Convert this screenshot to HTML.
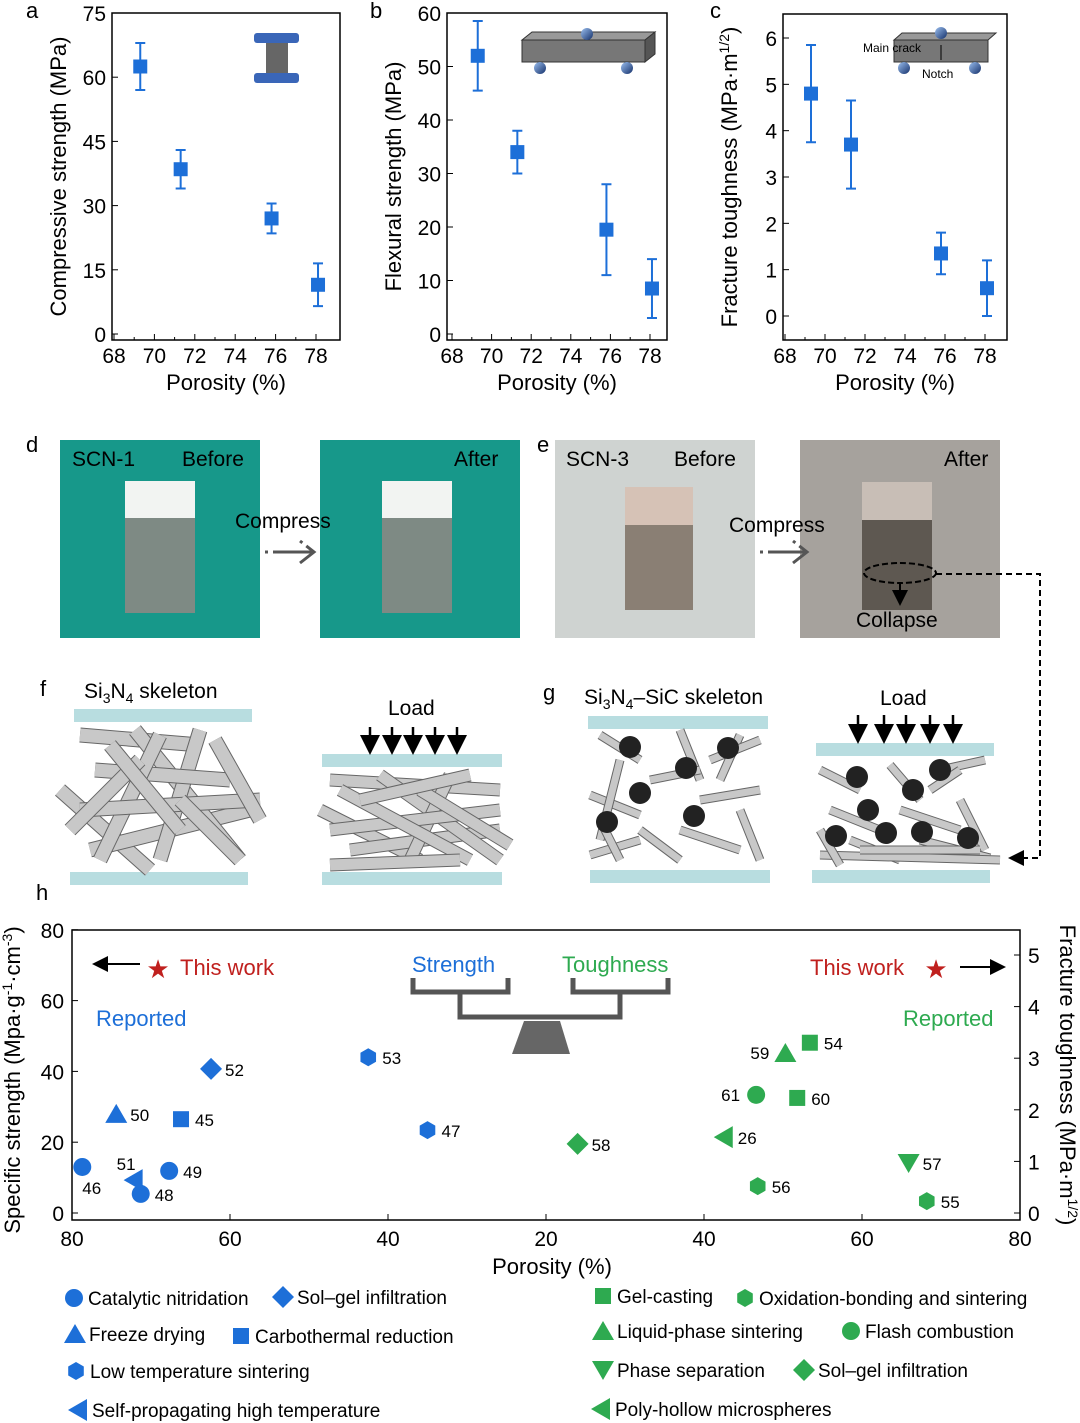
<!DOCTYPE html>
<html><head><meta charset="utf-8"><style>
body{margin:0;background:#fff}
svg{display:block;font-family:"Liberation Sans",sans-serif}
</style></head><body>
<svg id="fig" width="1080" height="1423" viewBox="0 0 1080 1423" xmlns="http://www.w3.org/2000/svg">
<defs>
<linearGradient id="roll" x1="0" y1="0" x2="1" y2="1"><stop offset="0" stop-color="#9cc0f0"/><stop offset="1" stop-color="#14306a"/></linearGradient>
<marker id="ah" markerWidth="8" markerHeight="8" refX="6" refY="4" orient="auto"><path d="M0,0 L8,4 L0,8 z" fill="#000"/></marker>
</defs>
<g id="charts"></g>
<g font-size="22">
<text x="26" y="18">a</text><text x="370" y="18">b</text><text x="710" y="18">c</text>
<text x="26" y="452">d</text><text x="537" y="452">e</text>
<text x="40" y="696">f</text><text x="543" y="700">g</text><text x="36" y="900">h</text>
</g>
<g>
<rect x="254" y="33" width="45" height="10" rx="3" fill="#3a66b8"/>
<rect x="266" y="43" width="22" height="30" fill="#666"/>
<rect x="254" y="73" width="45" height="10" rx="3" fill="#3a66b8"/>
</g>
<g>
<polygon points="522,40 645,40 655,32 532,32" fill="#999" stroke="#333"/>
<rect x="522" y="40" width="123" height="22" fill="#777" stroke="#333"/>
<polygon points="645,40 655,32 655,54 645,62" fill="#555" stroke="#333"/>
<circle cx="587" cy="34" r="6" fill="url(#roll)"/><circle cx="540" cy="68" r="6" fill="url(#roll)"/><circle cx="627" cy="68" r="6" fill="url(#roll)"/>
</g>
<g>
<polygon points="894,40 988,40 996,33 902,33" fill="#999" stroke="#333"/>
<rect x="894" y="40" width="94" height="22" fill="#777" stroke="#333"/>
<circle cx="941" cy="33" r="6" fill="url(#roll)"/><circle cx="904" cy="68" r="6" fill="url(#roll)"/><circle cx="975" cy="68" r="6" fill="url(#roll)"/>
<line x1="941" y1="45" x2="941" y2="60" stroke="#000"/>
<text x="863" y="52" font-size="12">Main crack</text><text x="922" y="78" font-size="12">Notch</text>
</g>
<g>
<rect x="60" y="440" width="200" height="198" fill="#17988a"/>
<rect x="125" y="518" width="70" height="95" fill="#7e8a84"/><rect x="125" y="481" width="70" height="37" fill="#f2f4f2"/>
<text x="72" y="466" font-size="21">SCN-1</text><text x="182" y="466" font-size="21">Before</text></g>
<g>
<rect x="320" y="440" width="200" height="198" fill="#17988a"/>
<rect x="382" y="518" width="70" height="95" fill="#7e8a84"/><rect x="382" y="481" width="70" height="37" fill="#f2f4f2"/>
<text x="454" y="466" font-size="21">After</text></g>
<text x="235" y="528" font-size="21">Compress</text>
<path d="M265,552 H312 M300,541 L314,552 L300,563" stroke="#555" stroke-width="3" fill="none" stroke-dasharray="3 5 40"/>
<g>
<rect x="555" y="440" width="200" height="198" fill="#cfd3d1"/>
<rect x="625" y="525" width="68" height="85" fill="#8a7f74"/><rect x="625" y="487" width="68" height="38" fill="#d6c2b6"/>
<text x="566" y="466" font-size="21">SCN-3</text><text x="674" y="466" font-size="21">Before</text></g>
<g>
<rect x="800" y="440" width="200" height="198" fill="#a6a29d"/>
<rect x="862" y="520" width="70" height="90" fill="#5e5851"/><rect x="862" y="482" width="70" height="38" fill="#c8beb6"/>
<ellipse cx="900" cy="573" rx="36" ry="10" fill="none" stroke="#000" stroke-width="2" stroke-dasharray="6 3"/>
<line x1="900" y1="583" x2="900" y2="602" stroke="#000" stroke-width="2" marker-end="url(#ah)"/>
<text x="944" y="466" font-size="21">After</text><text x="856" y="627" font-size="21">Collapse</text></g>
<text x="729" y="532" font-size="21">Compress</text>
<path d="M760,552 H805 M793,541 L807,552 L793,563" stroke="#555" stroke-width="3" fill="none" stroke-dasharray="3 5 40"/>
<path d="M936,574 H1040 V858 H1012" stroke="#000" stroke-width="2" fill="none" stroke-dasharray="6 4" marker-end="url(#ah)"/>
<text x="84" y="698" font-size="21">Si<tspan font-size="14" dy="5">3</tspan><tspan dy="-5">N</tspan><tspan font-size="14" dy="5">4</tspan><tspan dy="-5"> skeleton</tspan></text>
<text x="584" y="704" font-size="21">Si<tspan font-size="14" dy="5">3</tspan><tspan dy="-5">N</tspan><tspan font-size="14" dy="5">4</tspan><tspan dy="-5">–SiC skeleton</tspan></text>
<text x="388" y="715" font-size="21">Load</text><text x="880" y="705" font-size="21">Load</text>
<g id="skel"></g>
<g font-size="19" id="legend"></g>
</svg>
<script>
const NS="http://www.w3.org/2000/svg";
function mk(p,tag,at,txt){const e=document.createElementNS(NS,tag);for(const k in at)e.setAttribute(k,at[k]);if(txt!=null)e.textContent=txt;p.appendChild(e);return e;}
const charts=document.getElementById('charts');
const BLUE="#1d6fd8",GREEN="#2eaa50";

const porosityABC=[69.3,71.3,75.8,78.1];
const compStrength=[62.5,38.5,27,11.5];
const compErr=[5.5,4.5,3.5,5];
const flexStrength=[52,34,19.5,8.5];
const flexErr=[6.5,4,8.5,5.5];
const toughness=[4.8,3.7,1.35,0.6];
const toughErr=[1.05,0.95,0.45,0.6];
const xTicksABC=[68,70,72,74,76,78];
const yTicksA=[0,15,30,45,60,75];
const yTicksB=[0,10,20,30,40,50,60];
const yTicksC=[0,1,2,3,4,5,6];

function smallChart(o){
  const g=mk(charts,'g',{});
  
  
  const X=v=>o.x0+(v-68)*(o.x1-o.x0)/10;
  const Y=v=>o.y0+(v-o.ymin)*(o.y1-o.y0)/(o.ymax-o.ymin);
  mk(g,'rect',{x:o.L,y:o.T,width:o.R-o.L,height:o.B-o.T,fill:'none',stroke:'#000','stroke-width':1.5});
  xTicksABC.forEach(t=>{const x=X(t);mk(g,'line',{x1:x,x2:x,y1:o.B,y2:o.B-6,stroke:'#000'});
    const l=mk(g,'text',{x:x,y:o.B+23,'font-size':21,'text-anchor':'middle'},t);
    if(t<78){const xm=X(t+1);mk(g,'line',{x1:xm,x2:xm,y1:o.B,y2:o.B-3,stroke:'#000'});}});
  o.yt.forEach(t=>{const y=Y(t);mk(g,'line',{x1:o.L,x2:o.L+6,y1:y,y2:y,stroke:'#000'});
    const l=mk(g,'text',{x:o.L-6,y:y+8,'font-size':21,'text-anchor':'end'},t);});
  const xt=mk(g,'text',{x:(o.L+o.R)/2,y:o.B+50,'font-size':22,'text-anchor':'middle'},'Porosity (%)');
  
  const yt=mk(g,'text',{x:0,y:0,'font-size':22,'text-anchor':'middle',transform:`translate(${o.L-46},${(o.T+o.B)/2}) rotate(-90)`});
  yt.innerHTML=o.ytitle;
  porosityABC.forEach((p,i)=>{const x=X(p),y=Y(o.vals[i]),ya=Y(o.vals[i]+o.err[i]),yb=Y(o.vals[i]-o.err[i]);
    const eb=mk(g,'path',{d:`M${x},${ya}V${yb}M${x-5},${ya}H${x+5}M${x-5},${yb}H${x+5}`,stroke:BLUE,'stroke-width':2,fill:'none'});
    
    const m=mk(g,'rect',{x:x-7,y:y-7,width:14,height:14,fill:BLUE});
    });
}
smallChart({name:'chart-a-compressive',L:112,R:340,T:13,B:340,x0:114,x1:316,y0:334,y1:13,ymin:0,ymax:75,yt:yTicksA,vals:compStrength,err:compErr,ytitle:'Compressive strength (MPa)'});
smallChart({name:'chart-b-flexural',L:447,R:667,T:13,B:340,x0:452,x1:650,y0:334,y1:13,ymin:0,ymax:60,yt:yTicksB,vals:flexStrength,err:flexErr,ytitle:'Flexural strength (MPa)'});
smallChart({name:'chart-c-toughness',L:783,R:1007,T:14,B:340,x0:785,x1:985,y0:316,y1:38,ymin:0,ymax:6,yt:yTicksC,vals:toughness,err:toughErr,ytitle:'Fracture toughness (MPa·m<tspan font-size="14" dy="-8">1/2</tspan><tspan dy="8">)</tspan>'});

const leftLabels=['46','48','49','51','50','45','52','53','47'];
const leftPorosity=[78.7,71.3,67.7,72.2,74.4,66.2,62.4,42.5,35];
const leftStrength=[13,5.4,11.9,9.3,28,26.5,40.7,44,23.4];
const leftShapes=['circle','circle','circle','left','up','square','diamond','hex','hex'];
const rightLabels=['58','26','59','54','61','60','57','56','55'];
const rightPorosity=[24,42.5,50.3,53.4,46.6,51.8,65.9,46.8,68.2];
const rightToughness=[1.34,1.47,3.1,3.3,2.29,2.23,0.97,0.52,0.23];
const rightShapes=['diamond','left','up','square','circle','square','down','hex','hex'];
const hLeftXTicks=[80,60,40,20];
const hRightXTicks=[40,60,80];
const hLeftYTicks=[0,20,40,60,80];
const hRightYTicks=[0,1,2,3,4,5];

const HL=72,HR=1020,HT=930,HB=1220;
const XL=p=>72+(80-p)*7.9;
const XR=p=>546+(p-20)*7.9;
const YL=v=>1213-v*3.54;
const YR=v=>1213-v*51.6;
function labelOffset(lbl){
  if(lbl==='46')return[0,27];
  if(lbl==='51')return[-17,-10];
  if(lbl==='59'||lbl==='61')return[-35,6];
  return[14,7];
}

function shape(g,s,x,y,c){
  let e;const r=9;
  if(s==='circle')e=mk(g,'circle',{cx:x,cy:y,r:r,fill:c});
  else if(s==='square')e=mk(g,'rect',{x:x-8,y:y-8,width:16,height:16,fill:c});
  else if(s==='diamond')e=mk(g,'polygon',{points:`${x},${y-11} ${x+11},${y} ${x},${y+11} ${x-11},${y}`,fill:c});
  else if(s==='up')e=mk(g,'polygon',{points:`${x},${y-10} ${x+11},${y+9} ${x-11},${y+9}`,fill:c});
  else if(s==='down')e=mk(g,'polygon',{points:`${x},${y+10} ${x+11},${y-9} ${x-11},${y-9}`,fill:c});
  else if(s==='left')e=mk(g,'polygon',{points:`${x-10},${y} ${x+9},${y-11} ${x+9},${y+11}`,fill:c});
  else {let pts=[];for(let i=0;i<6;i++){const a=Math.PI/3*i+Math.PI/6;pts.push((x+r*Math.cos(a))+','+(y+r*Math.sin(a)));}e=mk(g,'polygon',{points:pts.join(' '),fill:c});}
  return e;
}
(function(){
  const g=mk(charts,'g',{});
  
  
  mk(g,'rect',{x:HL,y:HT,width:HR-HL,height:HB-HT,fill:'none',stroke:'#000','stroke-width':1.5});
  hLeftXTicks.forEach(t=>{const x=XL(t);mk(g,'line',{x1:x,x2:x,y1:HB,y2:HB-6,stroke:'#000'});
    const l=mk(g,'text',{x:x,y:HB+26,'font-size':21,'text-anchor':'middle'},t);});
  hRightXTicks.forEach(t=>{const x=XR(t);mk(g,'line',{x1:x,x2:x,y1:HB,y2:HB-6,stroke:'#000'});
    const l=mk(g,'text',{x:x,y:HB+26,'font-size':21,'text-anchor':'middle'},t);});
  hLeftYTicks.forEach(t=>{const y=YL(t);mk(g,'line',{x1:HL,x2:HL+6,y1:y,y2:y,stroke:'#000'});
    const l=mk(g,'text',{x:HL-8,y:y+8,'font-size':21,'text-anchor':'end'},t);});
  hRightYTicks.forEach(t=>{const y=YR(t);mk(g,'line',{x1:HR,x2:HR-6,y1:y,y2:y,stroke:'#000'});
    const l=mk(g,'text',{x:HR+8,y:y+8,'font-size':21},t);});
  const xt=mk(g,'text',{x:552,y:1274,'font-size':22,'text-anchor':'middle'},'Porosity (%)');
  
  const yl=mk(g,'text',{'font-size':22,'text-anchor':'middle',transform:'translate(20,1080) rotate(-90)'});
  yl.innerHTML='Specific strength (Mpa·g<tspan font-size="14" dy="-8">-1</tspan><tspan dy="8">·cm</tspan><tspan font-size="14" dy="-8">-3</tspan><tspan dy="8">)</tspan>';
  
  const yr=mk(g,'text',{'font-size':22,'text-anchor':'middle',transform:'translate(1060,1075) rotate(90)'});
  yr.innerHTML='Fracture toughness (MPa·m<tspan font-size="14" dy="-8">1/2</tspan><tspan dy="8">)</tspan>';
  
  leftPorosity.forEach((p,i)=>{const x=XL(p),y=YL(leftStrength[i]);
    const m=shape(g,leftShapes[i],x,y,BLUE);
    const o=labelOffset(leftLabels[i]);
    const l=mk(g,'text',{x:x+o[0],y:y+o[1],'font-size':17},leftLabels[i]);});
  rightPorosity.forEach((p,i)=>{const x=XR(p),y=YR(rightToughness[i]);
    const m=shape(g,rightShapes[i],x,y,GREEN);
    const o=labelOffset(rightLabels[i]);
    const l=mk(g,'text',{x:x+o[0],y:y+o[1],'font-size':17},rightLabels[i]);});
  mk(g,'text',{x:180,y:975,'font-size':22,fill:'#c0201e'},'This work');
  mk(g,'text',{x:158,y:978,'font-size':26,fill:'#c0201e','text-anchor':'middle'},'★');
  mk(g,'line',{x1:140,y1:964,x2:96,y2:964,stroke:'#000','stroke-width':2,'marker-end':'url(#ah)'});
  mk(g,'text',{x:810,y:975,'font-size':22,fill:'#c0201e'},'This work');
  mk(g,'text',{x:936,y:978,'font-size':26,fill:'#c0201e','text-anchor':'middle'},'★');
  mk(g,'line',{x1:960,y1:967,x2:1002,y2:967,stroke:'#000','stroke-width':2,'marker-end':'url(#ah)'});
  mk(g,'text',{x:96,y:1026,'font-size':22,fill:BLUE},'Reported');
  mk(g,'text',{x:903,y:1026,'font-size':22,fill:GREEN},'Reported');
  mk(g,'text',{x:412,y:972,'font-size':22,fill:BLUE},'Strength');
  mk(g,'text',{x:562,y:972,'font-size':22,fill:GREEN},'Toughness');
  mk(g,'path',{d:'M413,978 V992 H508 V978 M460,992 V1017 H620 V992 M573,978 V992 H668 V978',stroke:'#555','stroke-width':5,fill:'none'});
  mk(g,'polygon',{points:'524,1021 560,1021 570,1054 512,1054',fill:'#666'});
})();

(function(){
  const g=document.getElementById('skel');
  function plate(x,y,w){const p=mk(g,'rect',{x:x,y:y,width:w,height:13,fill:'#b8dde0'});}
  function rod(x1,y1,x2,y2,w){mk(g,'line',{x1,y1,x2,y2,stroke:'#666','stroke-width':w+2,'stroke-linecap':'butt'});mk(g,'line',{x1,y1,x2,y2,stroke:'#c8c8c8','stroke-width':w,'stroke-linecap':'butt'});}
  plate(74,709,178);plate(70,872,178);plate(322,754,180);plate(322,872,180);
  plate(588,716,180);plate(590,870,180);plate(816,743,178);plate(812,870,178);
  const f1=[[80,735,200,745],[60,790,150,870],[90,850,250,810],[135,730,240,860],[200,730,160,860],[95,770,230,780],[160,735,100,860],[80,810,260,800],[215,740,260,820],[70,830,140,760],[180,800,240,860],[110,745,180,830]];
  f1.forEach(r=>rod(...r,13));
  const f2=[[330,780,500,790],[320,810,420,860],[350,850,500,830],[380,775,500,860],[450,775,410,860],[330,830,500,810],[340,790,470,860],[420,790,510,845],[360,800,470,775],[330,865,460,860]];
  f2.forEach(r=>rod(...r,11));
  const g1=[[600,735,640,760],[680,730,700,780],[590,795,640,815],[620,760,600,840],[700,800,760,790],[740,735,720,780],[650,780,700,770],[590,855,640,840],[680,830,740,850],[710,760,760,740],[640,830,680,860],[740,810,760,860],[600,820,620,860]];
  g1.forEach(r=>rod(...r,7));
  const g2=[[820,770,860,790],[890,765,920,800],[940,770,985,760],[830,810,880,830],[900,810,960,830],[960,800,985,850],[850,840,900,860],[920,840,990,858],[820,855,1000,860],[860,850,980,850],[820,830,840,865],[930,790,960,770]];
  g2.forEach(r=>rod(...r,7));
  [[630,747],[686,768],[640,793],[607,822],[694,816],[728,748],[857,777],[940,770],[868,810],[913,790],[922,832],[836,836],[968,838],[886,833]].forEach(([x,y])=>mk(g,'circle',{cx:x,cy:y,r:11,fill:'#222'}));
  [370,392,413,435,457].forEach(x=>mk(g,'line',{x1:x,y1:727,x2:x,y2:750,stroke:'#000','stroke-width':2.5,'marker-end':'url(#ah)'}));
  [858,884,906,930,953].forEach(x=>mk(g,'line',{x1:x,y1:715,x2:x,y2:739,stroke:'#000','stroke-width':2.5,'marker-end':'url(#ah)'}));
})();

(function(){
  const g=document.getElementById('legend');
  const items=[['circle',74,1298,BLUE,'Catalytic nitridation'],['diamond',283,1297,BLUE,'Sol–gel infiltration'],
   ['up',75,1334,BLUE,'Freeze drying'],['square',241,1336,BLUE,'Carbothermal reduction'],
   ['hex',76,1371,BLUE,'Low temperature sintering'],['left',78,1410,BLUE,'Self-propagating high temperature'],
   ['square',603,1296,GREEN,'Gel-casting'],['hex',745,1298,GREEN,'Oxidation-bonding and sintering'],
   ['up',603,1331,GREEN,'Liquid-phase sintering'],['circle',851,1331,GREEN,'Flash combustion'],
   ['down',603,1370,GREEN,'Phase separation'],['diamond',804,1370,GREEN,'Sol–gel infiltration'],
   ['left',601,1409,GREEN,'Poly-hollow microspheres']];
  items.forEach(([s,x,y,c,t])=>{const m=shape(g,s,x,y,c);
    const l=mk(g,'text',{x:x+14,y:y+7},t);});
})();
</script>
</body></html>
